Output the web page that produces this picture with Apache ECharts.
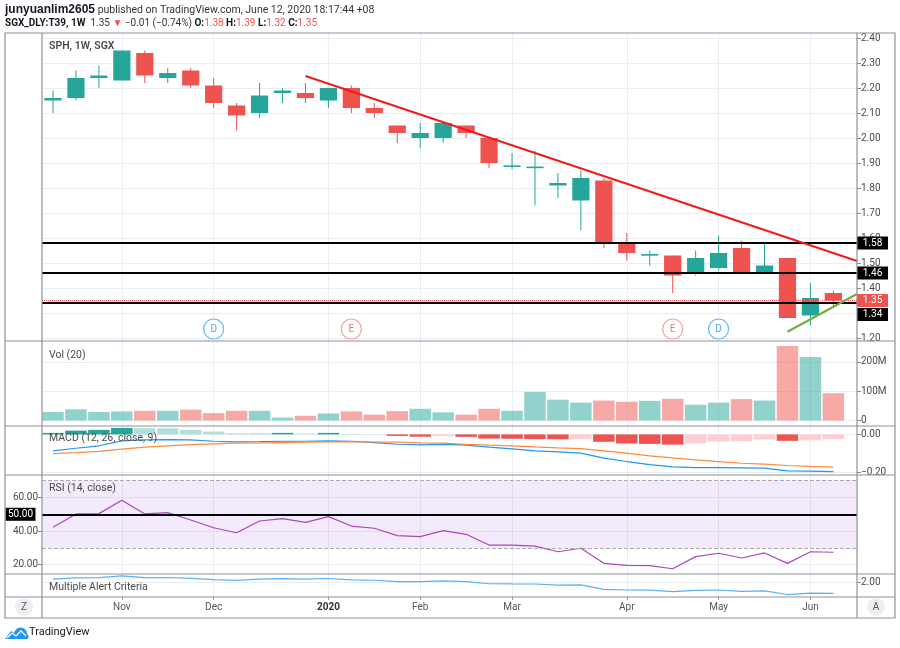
<!DOCTYPE html>
<html><head><meta charset="utf-8">
<script src="https://cdn.jsdelivr.net/npm/echarts@6/dist/echarts.min.js"></script>
<style>html,body{margin:0;padding:0;background:#fff}#c{width:900px;height:648px}</style>
</head><body><div id="c"></div>
<script>
// ---------- DATA ----------
const weeks = ['2019-10-14','2019-10-21','2019-10-28','2019-11-04','2019-11-11','2019-11-18','2019-11-25',
  '2019-12-02','2019-12-09','2019-12-16','2019-12-23','2019-12-30','2020-01-06','2020-01-13','2020-01-20','2020-01-27',
  '2020-02-03','2020-02-10','2020-02-17','2020-02-24','2020-03-02','2020-03-09','2020-03-16','2020-03-23','2020-03-30',
  '2020-04-06','2020-04-13','2020-04-20','2020-04-27','2020-05-04','2020-05-11','2020-05-18','2020-05-25','2020-06-01','2020-06-08'];
const openP  = [2.15,2.16,2.24,2.23,2.34,2.24,2.27,2.21,2.13,2.10,2.18,2.18,2.15,2.20,2.12,2.05,2.00,2.00,2.05,2.00,1.885,1.88,1.81,1.75,1.83,1.58,1.53,1.53,1.46,1.48,1.56,1.46,1.52,1.29,1.38];
const highP  = [2.19,2.27,2.29,2.35,2.35,2.28,2.28,2.24,2.14,2.22,2.20,2.22,2.20,2.21,2.14,2.05,2.06,2.06,2.05,2.00,1.94,1.95,1.86,1.87,1.84,1.62,1.55,1.53,1.55,1.61,1.59,1.58,1.52,1.42,1.39];
const lowP   = [2.10,2.15,2.20,2.23,2.22,2.22,2.20,2.12,2.03,2.08,2.14,2.14,2.12,2.10,2.08,1.98,1.96,1.98,2.00,1.88,1.875,1.73,1.76,1.63,1.56,1.51,1.49,1.38,1.45,1.47,1.46,1.46,1.28,1.25,1.32];
const closeP = [2.16,2.24,2.25,2.35,2.25,2.26,2.21,2.14,2.09,2.17,2.19,2.16,2.20,2.12,2.10,2.02,2.02,2.06,2.02,1.90,1.89,1.885,1.82,1.84,1.58,1.54,1.535,1.45,1.52,1.54,1.46,1.49,1.28,1.36,1.35];
const volumeM = [29,38,29,31,33,33,37,25,33,33,10,16,24,31,20,32,40,28,20,40,33,97,71,61,68,64,67,74,54,61,73,68,254,217,93];
const macdLine   = [-0.087,-0.073,-0.060,-0.034,-0.029,-0.027,-0.029,-0.036,-0.039,-0.038,-0.036,-0.036,-0.034,-0.036,-0.043,-0.052,-0.055,-0.053,-0.057,-0.067,-0.076,-0.087,-0.092,-0.099,-0.125,-0.143,-0.159,-0.171,-0.175,-0.175,-0.176,-0.178,-0.192,-0.194,-0.196];
const signalLine = [-0.101,-0.096,-0.089,-0.078,-0.067,-0.060,-0.054,-0.050,-0.046,-0.045,-0.043,-0.041,-0.040,-0.040,-0.040,-0.041,-0.045,-0.046,-0.052,-0.057,-0.060,-0.066,-0.071,-0.075,-0.087,-0.099,-0.113,-0.124,-0.134,-0.143,-0.152,-0.157,-0.164,-0.169,-0.173];
const macdHist   = [0.008,0.020,0.024,0.034,0.033,0.032,0.024,0.015,0.006,0.006,0.008,0.004,0.008,0.003,0.001,-0.008,-0.012,-0.008,-0.013,-0.022,-0.023,-0.025,-0.026,-0.024,-0.039,-0.048,-0.050,-0.054,-0.048,-0.038,-0.036,-0.027,-0.034,-0.031,-0.025];
const rsiVals = [42.3,50.2,50.4,58.3,50.2,51.0,46.6,42.0,39.0,46.0,47.4,45.2,48.6,43.0,41.7,37.3,36.7,40.3,38.1,31.7,31.7,31.1,27.7,29.8,20.8,19.6,19.4,17.6,24.8,26.8,24.0,27.0,20.8,27.7,27.4];
const monthIdx = [3,7,12,16,20,25,29,33];
const monthLabels = ['Nov','Dec','2020','Feb','Mar','Apr','May','Jun'];
const priceTicks = [1.2,1.3,1.4,1.5,1.6,1.7,1.8,1.9,2.0,2.1,2.2,2.3,2.4];
const volTicks = [0,100e6,200e6];
const macdTicks = [-0.2,0];
const rsiTicks = [20,40,60];
const alertTicks = [2.0];
const levels = [1.58,1.46,1.34];
const lastPrice = 1.35;
const redTrend = [[11,2.248],[35.03,1.508]];
const greenTrend = [[32,1.225],[35.03,1.376]];
const eventIdx = [7,13,27,29];
const eventType = ['D','E','E','D'];

// ---------- STYLE ----------
const UP='#26a69a', DOWN='#ef5350';
const X_MIN=-0.479, X_MAX=35.03;
const GRIDC='#e8eef3';
const FONT='Roboto, "Noto Sans", sans-serif';
const LABC='#4a4a4a';
const AXFS=10;

const chart = echarts.init(document.getElementById('c'), null, {renderer:'canvas'});

const candleData = weeks.map((w,i)=>[i,openP[i],closeP[i],lowP[i],highP[i]]);
const volData = weeks.map((w,i)=>({value:[i,volumeM[i]*1e6], itemStyle:{color: closeP[i]>=openP[i]?'rgba(38,166,154,0.5)':'rgba(239,83,80,0.5)'}}));
const histData = macdHist.map((v,i)=>{
  const p = i>0?macdHist[i-1]:-1;
  let c;
  if (v>=0) c = v>p ? '#26a69a' : '#b2dfdb';
  else c = v>p ? '#ffcdd2' : '#ef5350';
  return {value:[i,v], itemStyle:{color:c}};
});

function renderCandle(params, api){
  const x=api.value(0), o=api.value(1), c=api.value(2), l=api.value(3), h=api.value(4);
  const pO=api.coord([x,o]), pC=api.coord([x,c]), pL=api.coord([x,l]), pH=api.coord([x,h]);
  const w=api.size([1,0])[0]*0.75;
  const col = c>=o?UP:DOWN;
  let top=Math.min(pO[1],pC[1]), bot=Math.max(pO[1],pC[1]);
  if (bot-top<1.6){const m=(top+bot)/2; top=m-0.8; bot=m+0.8;}
  return {type:'group', children:[
    {type:'line', shape:{x1:pH[0],y1:pH[1],x2:pL[0],y2:pL[1]}, style:{stroke:col,lineWidth:1}},
    {type:'rect', shape:{x:pO[0]-w/2,y:top,width:w,height:bot-top}, style:{fill:col}}
  ]};
}

function xAx(idx, showLabels){
  return {type:'value', gridIndex:idx, min:X_MIN, max:X_MAX,
    axisLine:{show:false, onZero:false},
    axisTick:{show:showLabels, customValues:monthIdx, length:3, lineStyle:{color:'#999'}},
    axisLabel:{show:showLabels, customValues:monthIdx, margin:5, color:'#555', fontSize:AXFS, fontFamily:FONT,
      formatter:v=>{const k=monthIdx.indexOf(Math.round(v)); const s=monthLabels[k]||''; return s==='2020'?'{b|2020}':s;},
      rich:{b:{fontWeight:'bold',color:'#333',fontSize:AXFS,fontFamily:FONT}}},
    splitLine:{show:true, lineStyle:{color:GRIDC,width:1}}
  };
}
function yAx(idx, pos, min, max, ticks, fmt){
  return {type:'value', gridIndex:idx, position:pos, min:min, max:max,
    axisLine:{show:false, onZero:false},
    axisTick:{show:true, customValues:ticks, length:4, lineStyle:{color:'#888'}},
    axisLabel:{customValues:ticks, margin:4, color:LABC, fontSize:AXFS, fontFamily:FONT, formatter:fmt},
    splitLine:{show:true, lineStyle:{color:GRIDC,width:1}}
  };
}
function labelBox(y, txt, bg, dy){
  return {coord:[X_MAX,y], symbol:'rect', symbolSize:[31,13], symbolOffset:[15.5,dy||0],
    itemStyle:{color:bg}, label:{show:true, position:'inside', formatter:txt, color:'#fff', fontSize:AXFS, fontFamily:FONT}};
}

const paneText = (x,y,t,bold)=>({type:'text', left:x, top:y, silent:true, z:100,
  style:{text:t, fill:'#4a4a4a', font:(bold?'600 ':'')+'10.5px '+FONT}});
const line = (x1,y1,x2,y2)=>({type:'line', silent:true, z:90, shape:{x1,y1,x2,y2}, style:{stroke:'#8e9199', lineWidth:1.2}});

const option = {
  animation:false,
  backgroundColor:'#fff',
  grid:[
    {left:42,right:43,top:33,height:308},
    {left:42,right:43,top:341,height:85},
    {left:42,right:43,top:426,height:49},
    {left:42,right:43,top:475,height:99},
    {left:42,right:43,top:574,height:23}
  ],
  xAxis:[xAx(0,false),xAx(1,false),xAx(2,false),xAx(3,false),xAx(4,true)],
  yAxis:[
    yAx(0,'right',1.188,2.42,priceTicks,v=>v.toFixed(2)),
    yAx(1,'right',-18.8e6,271.3e6,volTicks,v=>v===0?'0':Math.round(v/1e6)+'M'),
    yAx(2,'right',-0.214,0.0443,macdTicks,v=>Math.abs(v)<1e-9?'0.00':'\u2212'+Math.abs(v).toFixed(2)),
    yAx(3,'left',14.46,73.39,rsiTicks,v=>v.toFixed(2)),
    yAx(4,'right',1.138,2.46,alertTicks,v=>v.toFixed(2))
  ],
  series:[
    {type:'custom', name:'SPH', xAxisIndex:0, yAxisIndex:0, renderItem:renderCandle, data:candleData,
      encode:{x:0,y:[1,2,3,4]}, z:3,
      markLine:{silent:true, symbol:['none','none'], label:{show:false}, animation:false,
        data:[
          ...levels.map(l=>({yAxis:l, lineStyle:{color:'#000',width:2,type:'solid'}})),
          {yAxis:lastPrice, lineStyle:{color:'#ef5350',width:1,type:'dotted'}},
          [{coord:redTrend[0], lineStyle:{color:'#f21b1b',width:2,type:'solid'}},{coord:redTrend[1]}],
          [{coord:greenTrend[0], lineStyle:{color:'#74ad3f',width:2,type:'solid'}},{coord:greenTrend[1]}]
        ]},
      markPoint:{silent:true, animation:false, data:[
        labelBox(levels[0],'1.58','#000'),
        labelBox(levels[1],'1.46','#000'),
        labelBox(lastPrice,'1.35','#ef5350'),
        labelBox(levels[2],'1.34','#000',11.5)
      ]}
    },
    {type:'scatter', xAxisIndex:0, yAxisIndex:0, symbol:'circle', symbolSize:20, z:5,
      data:eventIdx.map((x,k)=>({value:[x,1.236],
        itemStyle:{color:'#fff',borderColor:eventType[k]==='D'?'#42a5f5':'#f28b8b',borderWidth:1.2},
        label:{show:true,position:'inside',formatter:eventType[k],color:eventType[k]==='D'?'#2196f3':'#ef5350',fontSize:10,fontFamily:FONT}}))
    },
    {type:'bar', xAxisIndex:1, yAxisIndex:1, data:volData, barWidth:21.5},
    {type:'bar', xAxisIndex:2, yAxisIndex:2, data:histData, barWidth:21.5},
    {type:'line', xAxisIndex:2, yAxisIndex:2, data:macdLine.map((v,i)=>[i,v]), showSymbol:false, lineStyle:{color:'#2196f3',width:1.2}, itemStyle:{color:'#2196f3'}, z:4},
    {type:'line', xAxisIndex:2, yAxisIndex:2, data:signalLine.map((v,i)=>[i,v]), showSymbol:false, lineStyle:{color:'#ff8a3d',width:1.2}, itemStyle:{color:'#ff8a3d'}, z:4},
    {type:'line', xAxisIndex:3, yAxisIndex:3, data:rsiVals.map((v,i)=>[i,v]), showSymbol:false, lineStyle:{color:'#ab47bc',width:1.2}, itemStyle:{color:'#ab47bc'}, z:4,
      markArea:{silent:true, itemStyle:{color:'rgba(156,80,230,0.12)'}, data:[[{yAxis:70},{yAxis:30}]]},
      markLine:{silent:true, symbol:['none','none'], label:{show:false}, data:[
        {yAxis:70, lineStyle:{color:'#aaa',width:1,type:'dashed'}},
        {yAxis:30, lineStyle:{color:'#aaa',width:1,type:'dashed'}},
        {yAxis:50, lineStyle:{color:'#000',width:2,type:'solid'}}
      ]},
      markPoint:{silent:true, data:[{coord:[X_MIN,50], symbol:'rect', symbolSize:[30,13], symbolOffset:[-21.5,0],
        itemStyle:{color:'#000'}, label:{show:true,position:'inside',formatter:'50.00',color:'#fff',fontSize:AXFS,fontFamily:FONT}}]}
    },
    {type:'line', xAxisIndex:4, yAxisIndex:4, data:closeP.map((v,i)=>[i,v]), showSymbol:false, lineStyle:{color:'#5cb0f4',width:1.2}, itemStyle:{color:'#5cb0f4'}, z:4}
  ],
  graphic:[
    {type:'rect', silent:true, z:90, shape:{x:5,y:33,width:890,height:585}, style:{fill:null, stroke:'#8e9199', lineWidth:1.2}},
    line(42,33,42,618), line(857,33,857,618),
    line(5,341,895,341), line(5,426,895,426), line(5,475,895,475), line(5,574,895,574), line(5,597,895,597),
    {type:'text', left:5, top:4, silent:true, z:100, style:{text:'{b|junyuanlim2605} published on TradingView.com, June 12, 2020 18:17:44 +08',
      font:'10.5px '+FONT, fill:'#333', rich:{b:{fontWeight:'bold', fill:'#131722', font:'bold 10px '+FONT}}}},
    {type:'text', left:5, top:18, silent:true, z:100, style:{text:'{b|SGX_DLY:T39, 1W}  1.35 {r|\u25BC} \u22120.01 (\u22120.74%) {b|O:}{r|1.38} {b|H:}{r|1.39} {b|L:}{r|1.32} {b|C:}{r|1.35}',
      font:'10px '+FONT, fill:'#333', rich:{b:{font:'bold 10px '+FONT, fill:'#131722'}, r:{fill:'#ef5350', font:'10px '+FONT}}}},
    paneText(49,41,'SPH, 1W, SGX',true),
    paneText(49,350,'Vol (20)'),
    paneText(49,433,'MACD (12, 26, close, 9)'),
    paneText(49,483,'RSI (14, close)'),
    paneText(49,582,'Multiple Alert Criteria'),
    {type:'circle', silent:true, z:95, shape:{cx:24,cy:607,r:9}, style:{fill:'#eceef2'}},
    {type:'text', silent:true, z:100, style:{text:'Z', x:24, y:607, align:'center', verticalAlign:'middle', fill:'#555', font:'10px '+FONT}},
    {type:'circle', silent:true, z:95, shape:{cx:876,cy:607,r:9}, style:{fill:'#eceef2'}},
    {type:'text', silent:true, z:100, style:{text:'A', x:876, y:607, align:'center', verticalAlign:'middle', fill:'#555', font:'10px '+FONT}},
    {type:'polygon', silent:true, shape:{points:[[5,639],[11,631],[14,633],[15.5,630],[18,628],[21,627.5],[24,628.5],[26.5,631],[27,634],[28.5,635.5],[28.5,638],[27,639]]}, style:{fill:'#2196f3'}},
    {type:'polyline', silent:true, shape:{points:[[7,638],[12,633],[16,636],[21,631],[26,636]]}, style:{stroke:'#fff', lineWidth:1.3, fill:null}},
    {type:'text', left:29, top:627, silent:true, style:{text:'TradingView', fill:'#131722', font:'11px '+FONT}}
  ]
};
chart.setOption(option);
</script></body></html>
